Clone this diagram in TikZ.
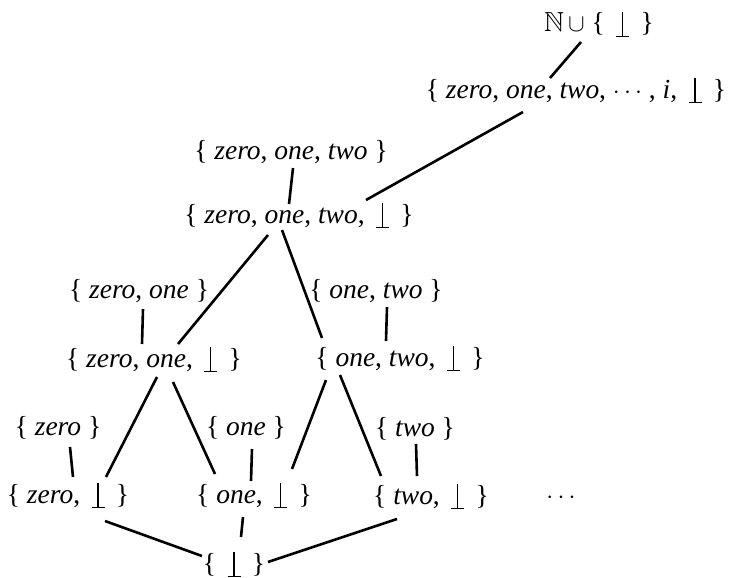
\documentclass[tikz,border=0pt]{standalone}
\usepackage{amssymb}
\usepackage{fontspec}
\setmainfont{Liberation Serif}
\usetikzlibrary{calc}
\newcommand{\zr}{\textit{zero}}
\newcommand{\on}{\textit{one}}
\newcommand{\tw}{\textit{two}}
\newcommand{\bt}{\makebox[22pt]{\raisebox{-5pt}{\rule{13pt}{1.3pt}\hspace{-7.15pt}\rule{1.3pt}{25pt}\hspace{5.85pt}}}}
\newcommand{\lb}{\{\ }
\newcommand{\rb}{\ \}}
\begin{document}
\begin{tikzpicture}[x=1pt,y=-1pt,
  setnode/.style={inner sep=0pt,anchor=base,font=\fontsize{27.5}{32}\selectfont},
  edge/.style={line width=2.6pt,line cap=butt}]
\useasboundingbox (0,0) rectangle (736,578);
% nodes
\node[setnode] (top)  at (599,32)  {$\mathbb{N}\,\cup$ \{ \bt\rb};
\node[setnode] (inf)  at (576,98)  {\lb\zr, \on, \tw, $\cdots$ , \textit{i}, \bt\rb};
\node[setnode] (zot)  at (291,159) {\lb\zr, \on, \tw\rb};
\node[setnode] (zotb) at (299,223) {\lb\zr, \on, \tw, \bt\rb};
\node[setnode] (zo)   at (139,298) {\lb\zr, \on\rb};
\node[setnode] (ot)   at (376,298) {\lb\on, \tw\rb};
\node[setnode] (zob)  at (154,367) {\lb\zr, \on, \bt\rb};
\node[setnode] (otb)  at (400,366) {\lb\on, \tw, \bt\rb};
\node[setnode] (z)    at (58,435)  {\lb\zr\rb};
\node[setnode] (o)    at (246,435) {\lb\on\rb};
\node[setnode] (t)    at (415,436) {\lb\tw\rb};
\node[setnode] (zb)   at (68,503)  {\lb\zr, \bt\rb};
\node[setnode] (ob)   at (254,503) {\lb\on, \bt\rb};
\node[setnode] (tb)   at (431,504) {\lb\tw, \bt\rb};
\node[setnode] (dots) at (561,503) {$\cdots$};
\node[setnode] (b)    at (234,572) {\lb\bt\rb};
% edges
\draw[edge] ($(top.base)+(-18,10)$) -- ($(inf.base)+(-26,-20)$);
\draw[edge] ($(inf.base)+(-53,14)$) -- ($(zotb.base)+(67,-23)$);
\draw[edge] ($(zot.base)+(2,9)$) -- ($(zotb.base)+(-10,-19)$);
\draw[edge] ($(zotb.base)+(-31,12)$) -- ($(zob.base)+(24,-23)$);
\draw[edge] ($(zotb.base)+(-17,7)$) -- ($(otb.base)+(-78,-28)$);
\draw[edge] ($(zo.base)+(4,11)$) -- ($(zob.base)+(-12,-23)$);
\draw[edge] ($(ot.base)+(11,9)$) -- ($(otb.base)+(-14,-25)$);
\draw[edge] ($(zob.base)+(3,10)$) -- ($(zb.base)+(38,-26)$);
\draw[edge] ($(zob.base)+(19,15)$) -- ($(ob.base)+(-39,-29)$);
\draw[edge] ($(otb.base)+(-74,14)$) -- ($(ob.base)+(38,-34)$);
\draw[edge] ($(otb.base)+(-60,9)$) -- ($(tb.base)+(-50,-28)$);
\draw[edge] ($(z.base)+(12,12)$) -- ($(zb.base)+(5,-26)$);
\draw[edge] ($(o.base)+(6,14)$) -- ($(ob.base)+(-3,-22)$);
\draw[edge] ($(t.base)+(1,8)$) -- ($(tb.base)+(-14,-28)$);
\draw[edge] ($(zb.base)+(37,18)$) -- ($(b.base)+(-32,-16)$);
\draw[edge] ($(ob.base)+(-11,14)$) -- ($(b.base)+(7,-35)$);
\draw[edge] ($(tb.base)+(-34,15)$) -- ($(b.base)+(34,-10)$);
\end{tikzpicture}
\end{document}
